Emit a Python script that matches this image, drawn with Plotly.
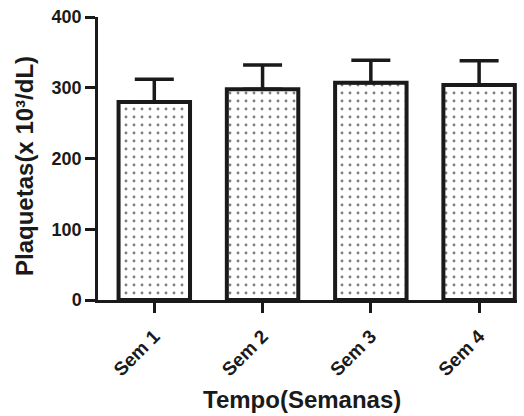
import plotly.graph_objects as go

categories = ["Sem 1", "Sem 2", "Sem 3", "Sem 4"]
means = [280, 298, 307, 304]
sd = [32, 34, 32, 34]
y_ticks = [0, 100, 200, 300, 400]
x_title = "<b>Tempo(Semanas)</b>"
y_title = "<b>Plaquetas(x 10³/dL)</b>"

FONT = "Arial, Liberation Sans, sans-serif"
INK = "#1a1a1a"

fig = go.Figure()
fig.add_trace(go.Bar(
    x=categories,
    y=means,
    width=0.66,
    marker=dict(
        color="white",
        line=dict(color=INK, width=4),
        pattern=dict(shape=".", fgcolor="#000000", bgcolor="white", size=8, solidity=0.1, fillmode="overlay"),
    ),
    error_y=dict(type="data", symmetric=False, array=sd, arrayminus=[0, 0, 0, 0],
                 color=INK, thickness=3.5, width=19.5),
))

fig.update_layout(
    width=524, height=416,
    margin=dict(l=98, r=7, t=17, b=116, autoexpand=False),
    paper_bgcolor="white", plot_bgcolor="white",
    showlegend=False,
    font=dict(family=FONT, color=INK),
    annotations=[
        dict(text=y_title, xref="paper", yref="paper", x=-74 / 419, y=(300 - 166) / 283,
             xanchor="center", yanchor="middle", textangle=-90, showarrow=False,
             font=dict(family=FONT, size=24, color=INK)),
        dict(text=x_title, xref="paper", yref="paper", x=(302 - 98) / 419, y=-(399 - 300) / 283,
             xanchor="center", yanchor="middle", showarrow=False,
             font=dict(family=FONT, size=24, color=INK)),
    ],
)
fig.update_xaxes(
    type="category",
    range=[-0.52, 3.35],
    automargin=False,
    showline=True, linecolor=INK, linewidth=2.5,
    ticks="outside", ticklen=10, tickwidth=2.5, tickcolor=INK,
    tickangle=-45, ticklabelstandoff=5,
    tickfont=dict(family=FONT, size=19, color=INK, weight="bold"),
    showgrid=False, zeroline=False,
)
fig.update_yaxes(
    range=[0, 400],
    tickvals=y_ticks,
    automargin=False,
    showline=True, linecolor=INK, linewidth=2.5,
    ticks="outside", ticklen=10, tickwidth=2.5, tickcolor=INK,
    tickfont=dict(family=FONT, size=18, color=INK, weight="bold"),
    showgrid=False, zeroline=False,
)

fig.write_html("out.html", config={"displayModeBar": False},
               post_script="document.body.style.margin='0';")
